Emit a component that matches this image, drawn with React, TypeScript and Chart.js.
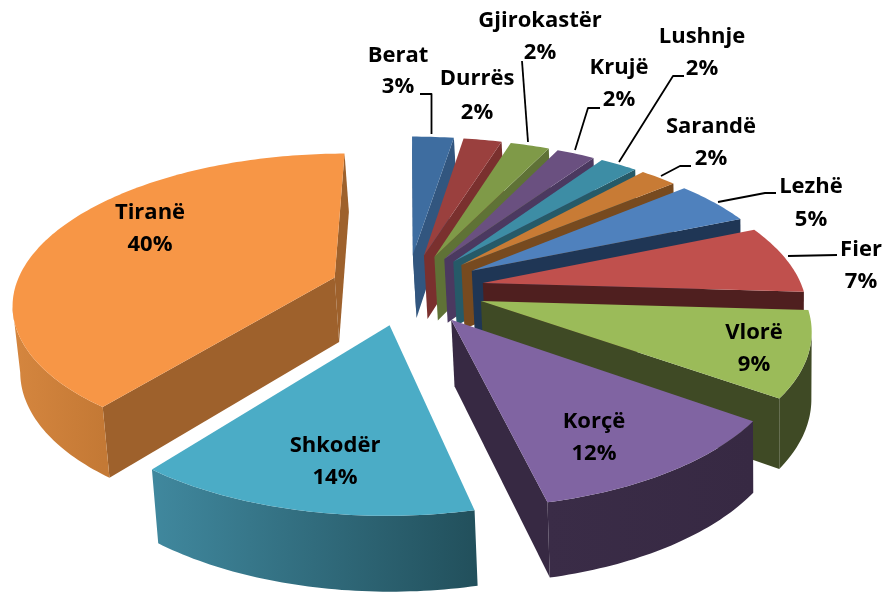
import React, { useEffect, useRef } from "react";
import { Chart, registerables } from "chart.js";

Chart.register(...registerables);

const cities = ["Berat", "Durrës", "Gjirokastër", "Krujë", "Lushnje", "Sarandë", "Lezhë", "Fier", "Vlorë", "Korçë", "Shkodër", "Tiranë"];
const shares = [2.5, 2.3, 2.35, 2.3, 2.25, 2.2, 4.75, 7.3, 9.0, 11.5, 14.1, 39.5];
const topColors = ["#3E6DA0", "#9A403E", "#7F9A48", "#6A5080", "#3D8DA5", "#C87B35", "#4F81BD", "#C0504D", "#9BBB59", "#8064A2", "#4BACC6", "#F79646"];
const cutColors = ["#32567F", "#7A302E", "#5F7236", "#4B3960", "#265A68", "#774A1F", "#1F3655", "#4F1F1F", "#3F4A25", "#372943", "#3A8095", "#9E612C"];
const wallFrom = ["#32567F", "#7A302E", "#5F7236", "#4B3960", "#265A68", "#774A1F", "#1F3655", "#4F1F1F", "#3F4A25", "#372943", "#22505C", "#C47935"];
const wallTo = ["#32567F", "#7A302E", "#5F7236", "#4B3960", "#265A68", "#774A1F", "#1F3655", "#4F1F1F", "#3F4A25", "#3A2C47", "#40889E", "#D5863F"];

const labelPlaces = [
  [398, 56, 87], [477, 79, 113], [540, 21, 53], [619, 68, 100], [702, 37, 69], [711, 127, 159],
  [811, 187, 220], [861, 250, 282], [754, 333, 365], [594, 422, 454], [335, 446, 478], [150, 213, 245],
];
const leaders = [
  [[420, 94], [431.5, 94], [431.5, 134]],
  [[522, 61], [528, 142]],
  [[600, 108], [588, 108], [575, 150]],
  [[684, 76], [673, 76], [619, 162]],
  [[691, 166], [680, 166], [661, 176]],
  [[776, 193], [765, 193], [718, 202]],
  [[837, 255], [788, 256]],
];

const CX = 407, CY = 289, RIM = 320, TILT = 0.46, PERSP = 0.0005, DEPTH = 65, SHRINK = 0.99, SHRINK_X = 780;

function project(X: number, Y: number) {
  const w = 1 / (1 - PERSP * Y);
  return { x: CX + X * w, y: CY + TILT * Y * w, w };
}
function lower(p: { x: number; y: number; w: number }) {
  return { x: SHRINK_X + (p.x - SHRINK_X) * SHRINK, y: p.y + DEPTH * Math.pow(p.w, 0.7) };
}

const pie3d = {
  id: "pie3d",
  beforeDatasetsDraw(chart: any) {
    const ctx = chart.ctx as CanvasRenderingContext2D;
    const meta = chart.getDatasetMeta(0);
    const colors = chart.data.datasets[0].backgroundColor as string[];
    const slices = meta.data.map((arc: any, i: number) => {
      const unit = RIM / arc.outerRadius;
      const mid = (arc.startAngle + arc.endAngle) / 2;
      const off = arc.options.offset * unit;
      return { i, arc, unit, mid, ox: Math.cos(mid) * off, oy: Math.sin(mid) * off };
    });
    slices.sort((a: any, b: any) => Math.sin(a.mid) - Math.sin(b.mid));

    ctx.save();
    ctx.lineJoin = "round";
    for (const s of slices) {
      const { arc, ox, oy, i } = s;
      const apex = project(ox, oy);
      const rim: any[] = [];
      const n = Math.max(8, Math.ceil(((arc.endAngle - arc.startAngle) * 180) / Math.PI));
      for (let k = 0; k <= n; k++) {
        const a = arc.startAngle + ((arc.endAngle - arc.startAngle) * k) / n;
        rim.push(project(ox + Math.cos(a) * RIM, oy + Math.sin(a) * RIM));
      }
      const band = (pts: any[], fill: any) => {
        ctx.beginPath();
        pts.forEach((p, k) => (k ? ctx.lineTo(p.x, p.y) : ctx.moveTo(p.x, p.y)));
        pts.slice().reverse().forEach((p) => {
          const b = lower(p);
          ctx.lineTo(b.x, b.y);
        });
        ctx.closePath();
        ctx.fillStyle = fill;
        ctx.fill();
      };
      if (rim[0].x < apex.x) band([apex, rim[0]], cutColors[i]);
      if (apex.x < rim[n].x) band([rim[n], apex], cutColors[i]);
      const visible = rim.filter((p, k) => (k < n && rim[k + 1].x < p.x) || (k > 0 && p.x < rim[k - 1].x));
      if (visible.length > 1) {
        const first = visible[0], last = visible[visible.length - 1];
        const grad = ctx.createLinearGradient(first.x, 0, last.x, 0);
        grad.addColorStop(0, wallFrom[i]);
        grad.addColorStop(1, wallTo[i]);
        band(visible, grad);
      }
      ctx.beginPath();
      ctx.moveTo(apex.x, apex.y);
      rim.forEach((p) => ctx.lineTo(p.x, p.y));
      ctx.closePath();
      ctx.fillStyle = colors[i];
      ctx.fill();
    }

    ctx.strokeStyle = "#000000";
    ctx.lineWidth = 1.8;
    for (const path of leaders) {
      ctx.beginPath();
      path.forEach(([x, y], k) => (k ? ctx.lineTo(x, y) : ctx.moveTo(x, y)));
      ctx.stroke();
    }

    ctx.fillStyle = "#000000";
    ctx.font = "700 22px 'Open Sans'";
    ctx.textAlign = "center";
    ctx.textBaseline = "middle";
    const vals = chart.data.datasets[0].data as number[];
    const labels = chart.data.labels as string[];
    labels.forEach((name, i) => {
      const [x, y1, y2] = labelPlaces[i];
      ctx.fillText(name, x, y1);
      ctx.fillText(`${Math.round(vals[i])}%`, x, y2);
    });
    ctx.restore();
    return false;
  },
};

export default function App() {
  const ref = useRef<HTMLCanvasElement>(null);
  useEffect(() => {
    const chart = new Chart(ref.current!, {
      type: "pie",
      data: {
        labels: cities,
        datasets: [{ data: shares, backgroundColor: topColors, borderWidth: 0, offset: 64 }],
      },
      options: {
        responsive: false,
        animation: false,
        rotation: 0,
        plugins: { legend: { display: false }, tooltip: { enabled: false } },
      },
      plugins: [pie3d],
    } as any);
    return () => chart.destroy();
  }, []);
  return (
    <div style={{ position: "absolute", left: 0, top: 0, width: 884, height: 593, background: "#fff" }}>
      <canvas ref={ref} width={884} height={593} style={{ display: "block" }} />
    </div>
  );
}
